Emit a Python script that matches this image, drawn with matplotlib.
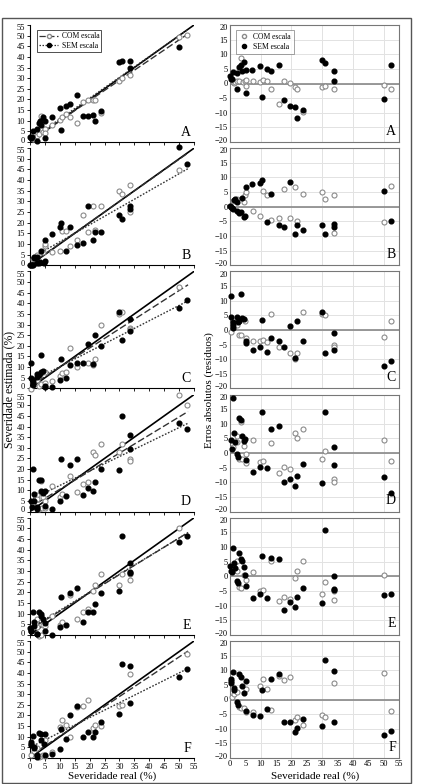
import matplotlib
matplotlib.use("Agg")
import matplotlib.pyplot as plt
from matplotlib.patches import Rectangle
from matplotlib.lines import Line2D
from matplotlib.transforms import ScaledTranslation
import numpy as np

plt.rcParams["font.family"] = ["Liberation Serif", "DejaVu Serif"]

# =========================
# DATA: severidade real (x) e residuo (estimada - real)
# =========================

a_com_x = [0.9, 1.2, 1.7, 2.2, 3.0, 3.7, 4.2, 4.9, 5.1, 5.1, 7.4, 9.9, 10.7, 12.1, 13.5, 15.8, 17.7, 19.6, 21.0, 21.7, 23.7, 29.8, 30.9, 33.7, 50.0, 52.5]
a_com_r = [0.6, 0.3, 0.4, 0.8, 0.9, 8.7, 0.6, 1.0, 1.2, -0.7, 0.7, 0.6, 1.1, 1.0, -1.8, -6.9, 1.0, 0.2, -1.3, -2.0, -9.9, -1.1, -0.7, -2.0, -0.6, -2.0]
a_sem_x = [0.0, 0.3, 0.7, 1.1, 2.3, 2.3, 3.0, 3.5, 3.8, 4.5, 5.1, 5.1, 7.3, 9.9, 10.5, 12.1, 13.5, 15.8, 17.7, 19.6, 21.0, 21.7, 23.7, 29.8, 30.9, 33.7, 33.7, 50.0, 52.5]
a_sem_r = [2.5, 1.7, 1.6, 3.9, 3.6, -2.0, 5.8, 6.2, 4.2, 7.2, 4.7, -3.3, 4.5, 6.1, -4.7, 4.8, 4.3, 6.2, -5.7, -7.6, -8.2, -11.8, -8.9, 7.9, 7.0, 4.2, 1.0, -5.3, 6.2]

b_com_x = [0.9, 2.2, 4.5, 4.9, 5.1, 7.4, 9.9, 10.7, 12.1, 13.5, 15.8, 17.7, 19.6, 21.0, 21.7, 23.7, 29.8, 30.9, 33.7, 33.7, 50.0, 52.5]
b_com_r = [1.8, 2.7, 1.5, 3.9, 5.0, -1.4, -3.1, 5.2, 3.9, -4.6, -4.0, 6.0, -3.9, 6.9, -5.0, 4.3, 5.1, 2.8, 4.0, -8.9, -5.3, 7.1]
b_sem_x = [0.0, 0.3, 0.7, 1.1, 1.2, 1.5, 2.2, 2.3, 3.0, 3.5, 3.8, 4.6, 4.9, 5.1, 7.3, 9.9, 10.5, 12.1, 13.5, 15.8, 17.7, 19.6, 21.0, 21.7, 23.7, 29.8, 30.9, 33.7, 33.7, 50.0, 52.5]
b_sem_r = [0.3, -0.2, -0.6, -0.8, 2.2, 2.5, 1.6, -1.4, -2.0, -1.8, 2.9, -3.5, -3.1, 6.7, 7.6, 8.0, 9.2, -5.3, 4.3, -6.1, -7.1, 8.3, -9.3, -6.1, -7.9, -6.3, -9.3, -5.9, -7.1, 5.5, -4.8]

c_com_x = [0.3, 0.9, 1.4, 2.2, 2.7, 3.0, 3.7, 4.9, 5.1, 7.4, 9.9, 10.7, 12.1, 13.5, 15.8, 19.6, 21.0, 21.7, 23.7, 29.8, 30.9, 33.7, 33.7, 50.0, 52.5]
c_com_r = [-0.8, 1.8, 2.4, 1.7, 3.5, -1.9, -1.7, 2.9, -2.7, -3.9, -3.9, -3.5, -4.2, 5.4, -5.9, -7.8, -10.0, -8.0, 6.1, 5.4, 5.0, -5.2, -5.8, -2.3, 3.2]
c_sem_x = [0.3, 0.3, 1.1, 1.1, 1.1, 2.3, 2.5, 3.0, 3.7, 3.8, 4.5, 5.1, 5.1, 7.4, 9.9, 10.5, 12.1, 13.5, 15.8, 17.7, 19.6, 21.0, 21.7, 23.7, 29.8, 30.9, 33.7, 33.7, 50.0, 52.5]
c_sem_r = [11.7, 4.4, 2.7, 1.6, 0.6, 4.5, 2.8, 3.1, 12.2, 4.0, 3.7, -3.9, -4.4, -6.9, -5.9, 3.3, -7.4, -2.7, -3.9, -5.9, 1.2, -9.5, 3.2, -3.7, 6.0, -8.0, -1.0, -6.9, -12.2, -10.8]

d_com_x = [0.9, 2.2, 2.2, 3.0, 3.7, 3.9, 4.5, 5.1, 5.1, 7.4, 9.9, 10.7, 13.5, 15.8, 17.7, 19.6, 21.0, 21.7, 23.7, 29.8, 30.9, 33.7, 33.7, 50.0, 52.5]
d_com_r = [2.0, 5.7, 3.7, -1.9, 10.5, -2.1, 2.3, -0.3, -3.3, 4.6, -2.9, -2.6, 3.4, -6.8, -4.8, -5.5, 6.8, 5.1, 8.1, -2.0, 0.8, -8.9, -9.8, 4.6, -2.6]
d_sem_x = [1.1, 0.3, 0.7, 1.3, 1.5, 2.3, 2.5, 3.0, 3.7, 3.8, 4.5, 4.9, 5.1, 7.4, 9.9, 10.5, 12.1, 13.5, 15.8, 17.7, 19.6, 21.0, 21.7, 23.7, 29.8, 30.9, 33.7, 33.7, 50.0, 52.5]
d_sem_r = [18.9, 4.5, 1.5, 6.9, 3.7, -0.3, -1.4, 12.0, 11.3, 6.0, 4.2, 4.8, -2.3, -6.3, -4.8, 14.2, -5.0, 8.3, 9.1, -9.9, -8.7, -11.1, -7.8, -3.8, -10.1, 13.9, 2.1, -4.1, -8.3, -13.7]

e_com_x = [0.5, 2.2, 2.2, 3.0, 3.7, 4.5, 5.1, 7.4, 9.9, 10.7, 13.5, 15.8, 17.7, 19.6, 21.0, 21.7, 23.7, 29.8, 30.9, 33.7, 33.7, 50.0]
e_com_r = [2.8, 5.3, 1.7, -3.6, -3.9, 0.3, -1.1, 1.5, -5.1, -4.8, 5.3, -8.4, -7.0, -7.6, -0.6, 1.9, 5.1, -6.2, -2.1, -5.1, -8.1, 0.3]
e_sem_x = [0.0, 0.3, 0.5, 1.1, 1.3, 1.5, 2.3, 2.5, 3.0, 3.7, 3.8, 4.5, 4.9, 5.1, 7.4, 9.9, 10.5, 12.1, 13.5, 15.8, 17.7, 19.6, 21.0, 21.7, 23.7, 29.8, 30.9, 33.7, 33.7, 33.7, 50.0, 52.5]
e_sem_r = [3.4, 1.7, 1.3, 9.8, 4.7, 2.8, -1.7, -2.2, 7.8, 6.0, 5.1, 3.1, 0.6, -3.4, -7.5, -6.2, 7.1, -7.3, 6.2, 6.0, -11.6, -8.8, -10.4, -7.0, -3.9, -9.2, 15.7, 0.0, -4.2, -4.7, -6.5, -6.0]

f_com_x = [0.5, 1.3, 2.2, 3.0, 3.7, 4.5, 5.1, 5.1, 7.4, 9.9, 10.7, 12.1, 13.5, 15.8, 17.7, 19.6, 21.0, 21.7, 23.7, 29.8, 30.9, 33.7, 50.0, 52.5]
f_com_r = [1.0, 1.8, 2.4, -2.4, -2.9, -3.0, 3.5, -4.3, -4.4, 4.7, 7.0, 3.5, -3.5, 8.0, 6.6, 7.8, -7.1, -6.0, -8.7, -5.2, -6.1, 5.6, 9.2, -3.8]
f_sem_x = [0.3, 0.3, 0.3, 1.1, 1.3, 1.3, 2.3, 2.5, 3.0, 3.7, 3.8, 4.6, 5.1, 5.1, 7.4, 9.9, 10.5, 12.1, 13.5, 15.8, 17.7, 19.6, 21.0, 21.7, 23.7, 29.8, 30.9, 33.7, 33.7, 50.0, 52.5]
f_sem_r = [7.0, 6.3, 5.7, 9.4, 4.0, 3.3, -1.0, -1.8, 8.7, 7.8, 4.7, 2.1, 6.4, -3.8, -5.4, -5.7, 3.1, -3.1, 6.9, 8.7, -7.8, -7.6, -11.0, -9.7, -6.7, -8.9, 13.4, 9.7, -7.8, -12.0, -10.6]

letters = ["A", "B", "C", "D", "E", "F"]

# retas de regressao (inclinacao, intercepto)
com_slope = [0.95, 0.99, 0.90, 0.85, 0.86, 0.93]
com_icpt = [0.5, 0.3, 1.0, 2.0, 2.5, 1.0]
sem_slope = [0.98, 0.80, 0.72, 0.68, 0.85, 0.70]
sem_icpt = [1.0, 3.0, 3.0, 5.5, 3.0, 5.0]

panels = [
    (a_com_x, a_com_r, a_sem_x, a_sem_r),
    (b_com_x, b_com_r, b_sem_x, b_sem_r),
    (c_com_x, c_com_r, c_sem_x, c_sem_r),
    (d_com_x, d_com_r, d_sem_x, d_sem_r),
    (e_com_x, e_com_r, e_sem_x, e_sem_r),
    (f_com_x, f_com_r, f_sem_x, f_sem_r),
]

# =========================
# FIGURE
# =========================

W, H = 426, 784
fig = plt.figure(figsize=(W / 100, H / 100), dpi=100)

def fx(px):
    return px / W

def fy(py):
    return 1 - py / H

top = 25
pitch = 123.2
ph = 117
lx0, lx1 = 30, 194
rx0, rx1 = 230, 399

open_col = "#8a8a8a"
tick_fs = 6

up = ScaledTranslation(0, 2.2 / 100, fig.dpi_scale_trans)
down = ScaledTranslation(0, -2.2 / 100, fig.dpi_scale_trans)


def nudge_edges(axis):
    # afasta um pouco os rotulos extremos dos paineis vizinhos
    labs = axis.get_yticklabels()
    labs[0].set_transform(labs[0].get_transform() + up)
    labs[-1].set_transform(labs[-1].get_transform() + down)


for i, (cx, cr, sx, sr) in enumerate(panels):
    y_top = top + i * pitch
    y_bot = y_top + ph
    cx = np.array(cx)
    cr = np.array(cr)
    sx = np.array(sx)
    sr = np.array(sr)
    ce = cx + cr
    se = sx + sr
    ck = ce <= 55.5
    sk = se <= 55.5

    # ----- esquerda: estimada vs real -----
    ax = fig.add_axes([fx(lx0), fy(y_bot), fx(lx1 - lx0), ph / H])
    ax.set_xlim(0, 55)
    ax.set_ylim(0, 55)
    for s in ["top", "right"]:
        ax.spines[s].set_visible(False)
    for s in ["left", "bottom"]:
        ax.spines[s].set_linewidth(0.8)
    ax.set_xticks(np.arange(0, 56, 5))
    ax.set_yticks(np.arange(0, 56, 5))
    ax.tick_params(labelsize=tick_fs, length=2.5, width=0.6, pad=1)
    if i < 5:
        ax.set_xticklabels([])
    nudge_edges(ax)

    xx = np.array([0, 55])
    ax.plot(xx, xx, color="black", lw=1.2, zorder=2)
    xr = np.array([0, 53])
    ax.plot(xr, com_icpt[i] + com_slope[i] * xr, color="#333333", lw=1.0, ls=(0, (5, 2)), zorder=2)
    ax.plot(xr, sem_icpt[i] + sem_slope[i] * xr, color="#333333", lw=1.0, ls=(0, (1.2, 1.2)), zorder=2)
    ax.plot(cx[ck], ce[ck], "o", ms=3.6, mfc="white", mec=open_col, mew=0.8, zorder=3, clip_on=False)
    ax.plot(sx[sk], se[sk], "o", ms=3.4, mfc="black", mec="black", zorder=4, clip_on=False)
    ax.text(54, 1.5, letters[i], fontsize=10, ha="right", va="bottom")

    if i == 0:
        h1 = Line2D([], [], color="#333333", lw=0.9, ls=(0, (5, 2)), marker="o", ms=3, mfc="white", mec=open_col)
        h2 = Line2D([], [], color="#333333", lw=0.9, ls=(0, (1.2, 1.2)), marker="o", ms=3, mfc="black", mec="black")
        leg = ax.legend([h1, h2], ["COM escala", "SEM escala"], loc="upper left", fontsize=5.5,
                        frameon=True, fancybox=False, edgecolor="black", handlelength=2.5,
                        borderpad=0.3, labelspacing=0.2, handletextpad=0.4, bbox_to_anchor=(0.02, 0.99))
        leg.get_frame().set_linewidth(0.6)

    # ----- direita: residuos -----
    ar = fig.add_axes([fx(rx0), fy(y_bot), fx(rx1 - rx0), ph / H])
    ar.set_xlim(0, 55)
    ar.set_ylim(-20, 20)
    for s in ar.spines.values():
        s.set_color("#777777")
        s.set_linewidth(0.8)
    ar.set_xticks(np.arange(0, 56, 5))
    ar.set_yticks(np.arange(-20, 21, 5))
    ar.tick_params(labelsize=tick_fs, length=0, pad=1.5)
    for gx in range(10, 55, 10):
        ar.axvline(gx, color="#e2e2e2", lw=0.7, zorder=0)
    for gy in range(-15, 20, 5):
        ar.axhline(gy, color="#e2e2e2", lw=0.7, zorder=0)
    ar.axhline(0, color="#888888", lw=1.2, zorder=1)
    if i < 5:
        ar.set_xticklabels([])
    nudge_edges(ar)
    ar.plot(cx, cr, "o", ms=3.6, mfc="white", mec=open_col, mew=0.8, zorder=3, clip_on=False)
    ar.plot(sx, sr, "o", ms=3.4, mfc="black", mec="black", zorder=4, clip_on=False)
    ar.text(54, -18.5, letters[i], fontsize=10, ha="right", va="bottom")

    if i == 0:
        h1 = Line2D([], [], ls="none", marker="o", ms=3, mfc="white", mec=open_col)
        h2 = Line2D([], [], ls="none", marker="o", ms=3, mfc="black", mec="black")
        leg = ar.legend([h1, h2], ["COM escala", "SEM escala"], loc="upper left", fontsize=5.5,
                        frameon=True, fancybox=False, edgecolor="#777777", handlelength=1.5,
                        borderpad=0.4, labelspacing=0.2, handletextpad=0.4, bbox_to_anchor=(0.01, 0.99))
        leg.get_frame().set_linewidth(0.6)

# =========================
# TEXTOS E MOLDURA
# =========================

fig.text(fx(9), fy(390), "Severidade estimada (%)", rotation=90, ha="center", va="center", fontsize=8.5)
fig.text(fx(209), fy(390), "Erros absolutos (resíduos)", rotation=90, ha="center", va="center", fontsize=8)
fig.text(fx(112), fy(776), "Severidade real (%)", ha="center", va="center", fontsize=8)
fig.text(fx(315), fy(776), "Severidade real (%)", ha="center", va="center", fontsize=8)

fig.patches.append(Rectangle((fx(2), fy(783)), fx(409), (783 - 18) / H, transform=fig.transFigure,
                             fill=False, edgecolor="#555555", lw=1.0))

fig.savefig("out.png", dpi=100)
